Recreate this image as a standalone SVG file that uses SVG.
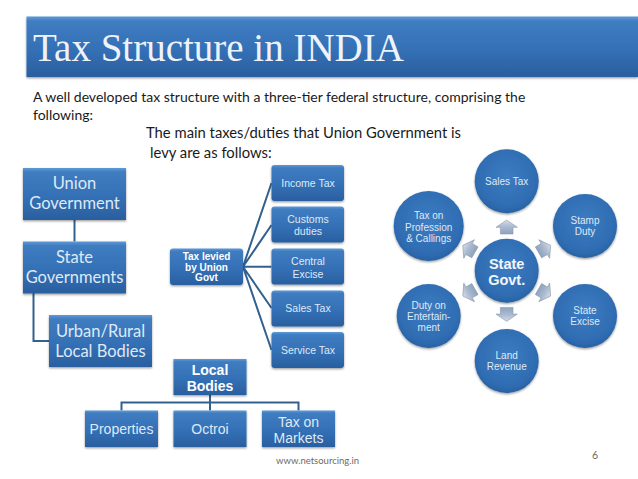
<svg xmlns="http://www.w3.org/2000/svg" width="638" height="479" viewBox="0 0 638 479">
<style>
text{font-family:"Liberation Sans",Arial,sans-serif;fill:#dfe9f5;text-anchor:middle}
.cal{font-family:Lato,"Open Sans",sans-serif;font-size:16.500px}
.body{font-family:Lato,"Open Sans",sans-serif;font-size:14.800px;fill:#1a1a1a;text-anchor:start}
.box{fill:url(#blue);filter:url(#sh)}
.sm{font-size:10.500px}
.cs{font-size:10px}
.lv{font-size:10px}
.md{font-size:14px}
.bd{font-weight:bold;fill:#fff}
.conn{fill:none;stroke:#32608f;stroke-width:2}
.circ{fill:url(#ball);filter:url(#sh)}
.arr{fill:url(#arrow);stroke:#8a99ad;stroke-width:.6}
</style>
<defs>
<linearGradient id="blue" x1="0" y1="0" x2="0" y2="1">
<stop offset="0" stop-color="#5f9ad8"/><stop offset=".08" stop-color="#3f7cc0"/><stop offset=".55" stop-color="#3470b6"/><stop offset="1" stop-color="#2a5f9f"/>
</linearGradient>
<radialGradient id="ball" cx=".5" cy=".42" r=".6">
<stop offset="0" stop-color="#3d7cc2"/><stop offset=".8" stop-color="#2f6cb2"/><stop offset="1" stop-color="#285f9f"/>
</radialGradient>
<linearGradient id="arrow" x1="0" y1="0" x2="0" y2="1">
<stop offset="0" stop-color="#d6dde8"/><stop offset=".5" stop-color="#a9b9cf"/><stop offset="1" stop-color="#8ea3bf"/>
</linearGradient>
<filter id="sh" x="-10%" y="-10%" width="120%" height="125%"><feDropShadow dx="0" dy="1.200" stdDeviation="1" flood-color="#000" flood-opacity=".4"/></filter>
<path id="ar" class="arr" d="M0-50.700 10.700-43.400H6.300V-36.700H-6.300V-43.400H-10.700Z"/>
</defs>
<rect width="638" height="479" fill="#fff"/>

<g id="title">
<rect class="box" x="26.500" y="16.500" width="611.500" height="60.500"/>
<text x="33" y="61" style="font-family:'Liberation Serif',serif;font-size:39px;text-anchor:start;fill:#eef3fa">Tax Structure in INDIA</text>
</g>
<g id="intro">
<text class="body" style="font-size:14px" x="33" y="102">A well developed tax structure with a three-tier federal structure, comprising the</text>
<text class="body" style="font-size:14px" x="33" y="120">following:</text>
<text class="body" x="146" y="138">The main taxes/duties that Union Government is</text>
<text class="body" x="150" y="158">levy are as follows:</text>
</g>

<g id="connectors">
<path class="conn" d="M74.500 220V241.500M33.500 293V341H49"/>
<path class="conn" d="M243 266.700 271.500 183M243 266.700 271.500 225M243 266.700H271.500M243 266.700 271.500 308M243 266.700 271.500 350"/>
<path class="conn" d="M210 395V410.500M121.500 410.500V402.500H298.500V410.500"/>
</g>

<g id="union"><rect class="box" x="23" y="168" width="103" height="52"/><text class="cal" x="74.500" y="189">Union</text><text class="cal" x="74.500" y="209">Government</text></g>
<g id="state"><rect class="box" x="23" y="241.500" width="103" height="52"/><text class="cal" x="74.500" y="263">State</text><text class="cal" x="74.500" y="283">Governments</text></g>
<g id="urban"><rect class="box" x="49" y="315" width="103" height="52"/><text class="cal" x="100.500" y="337">Urban/Rural</text><text class="cal" x="100.500" y="357">Local Bodies</text></g>

<g id="levied"><rect class="box" x="170" y="248.500" width="73" height="36.500" rx="3"/><text class="lv bd" x="206.500" y="259.500">Tax levied</text><text class="lv bd" x="206.500" y="270.500">by Union</text><text class="lv bd" x="206.500" y="281">Govt</text></g>
<g id="income"><rect class="box" x="271.500" y="165" width="72.500" height="36" rx="3"/><text class="sm" x="308" y="187">Income Tax</text></g>
<g id="customs"><rect class="box" x="271.500" y="206.500" width="72.500" height="36" rx="3"/><text class="sm" x="308" y="223">Customs</text><text class="sm" x="308" y="235">duties</text></g>
<g id="excise"><rect class="box" x="271.500" y="248.500" width="72.500" height="36" rx="3"/><text class="sm" x="308" y="264.500">Central</text><text class="sm" x="308" y="277.500">Excise</text></g>
<g id="sales"><rect class="box" x="271.500" y="290.500" width="72.500" height="36" rx="3"/><text class="sm" x="308" y="312">Sales Tax</text></g>
<g id="service"><rect class="box" x="271.500" y="332" width="72.500" height="36" rx="3"/><text class="sm" x="308" y="354">Service Tax</text></g>

<g id="local"><rect class="box" x="173.500" y="359" width="73" height="36"/><text class="md bd" x="210" y="375">Local</text><text class="md bd" x="210" y="391">Bodies</text></g>
<g id="properties"><rect class="box" x="85" y="410.500" width="73" height="36.500"/><text class="md" x="121.500" y="434">Properties</text></g>
<g id="octroi"><rect class="box" x="173.500" y="410.500" width="73" height="36.500"/><text class="md" x="210" y="434">Octroi</text></g>
<g id="markets"><rect class="box" x="262" y="410.500" width="73" height="36.500"/><text class="md" x="298.500" y="427">Tax on</text><text class="md" x="298.500" y="443">Markets</text></g>

<g id="arrows" transform="translate(506.700 270.700)">
<use href="#ar"/><use href="#ar" transform="rotate(60)"/><use href="#ar" transform="rotate(120)"/><use href="#ar" transform="rotate(180)"/><use href="#ar" transform="rotate(240)"/><use href="#ar" transform="rotate(300)"/>
</g>

<g id="center"><circle class="circ" cx="506.700" cy="270.700" r="32"/><text x="506.700" y="268.500" style="font-size:14.500px;font-weight:bold;fill:#f2f6fb">State</text><text x="506.700" y="284.500" style="font-size:14.500px;font-weight:bold;fill:#f2f6fb">Govt.</text></g>
<g id="c-sales"><circle class="circ" cx="506.700" cy="181.300" r="32"/><text class="cs" x="506.700" y="185">Sales Tax</text></g>
<g id="c-stamp"><circle class="circ" cx="585" cy="226" r="32"/><text class="cs" x="585" y="224">Stamp</text><text class="cs" x="585" y="235">Duty</text></g>
<g id="c-excise"><circle class="circ" cx="585" cy="316" r="32"/><text class="cs" x="585" y="314">State</text><text class="cs" x="585" y="325">Excise</text></g>
<g id="c-land"><circle class="circ" cx="506.700" cy="361" r="32"/><text class="cs" x="506.700" y="359">Land</text><text class="cs" x="506.700" y="370">Revenue</text></g>
<g id="c-duty"><circle class="circ" cx="428.700" cy="316" r="32"/><text class="cs" x="428.700" y="309">Duty on</text><text class="cs" x="428.700" y="320">Entertain-</text><text class="cs" x="428.700" y="331">ment</text></g>
<g id="c-prof"><circle class="circ" cx="428.700" cy="226" r="35"/><text class="cs" x="428.700" y="219">Tax on</text><text class="cs" x="428.700" y="230.500">Profession</text><text class="cs" x="428.700" y="241.500">&amp; Callings</text></g>

<g id="footer">
<text x="276" y="464" style="font-family:Lato,sans-serif;font-size:9.500px;fill:#6b6b6b;text-anchor:start">www.netsourcing.in</text>
<text x="595" y="459" style="font-family:Lato,sans-serif;font-size:10.500px;fill:#6b6b6b">6</text>
</g>
</svg>
